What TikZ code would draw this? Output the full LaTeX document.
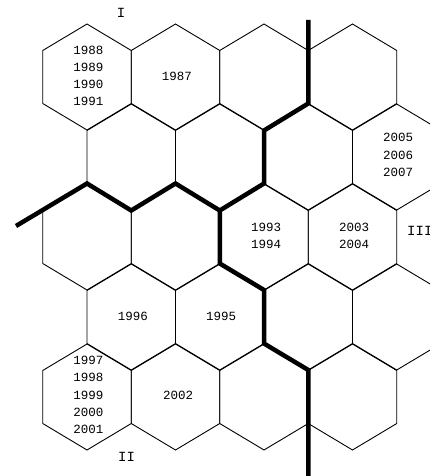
\documentclass[tikz,border=0pt]{standalone}
\usepackage{fontspec}
\setmonofont{Liberation Mono}
\begin{document}
\begin{tikzpicture}[x=1pt,y=-1pt,
  hexline/.style={line width=0.9pt, line join=miter},
  border/.style={line width=4.5pt, line join=miter},
  yr/.style={font=\ttfamily\fontsize{12.5}{17.2}\selectfont, align=center, inner sep=0pt},
  roman/.style={font=\ttfamily\fontsize{14}{16}\selectfont, inner sep=0pt}]
\useasboundingbox (0,0) rectangle (430,476);
\def\hw{44.25}
\foreach \cx/\cy in {87/77,175.5/77,264/77,352.5/77,
                     131.25/157,219.75/157,308.25/157,396.75/157,
                     87/237,175.5/237,264/237,352.5/237,
                     131.25/317,219.75/317,308.25/317,396.75/317,
                     87/397,175.5/397,264/397,352.5/397}{
  \draw[hexline] (\cx,\cy-53) -- (\cx+\hw,\cy-26.5) -- (\cx+\hw,\cy+26.5) -- (\cx,\cy+53)
     -- (\cx-\hw,\cy+26.5) -- (\cx-\hw,\cy-26.5) -- cycle;
}
% border coordinates
\coordinate (a0) at (308.25,20);
\coordinate (a1) at (308.25,103.5);
\coordinate (a2) at (264,130.5);
\coordinate (a3) at (264,183.5);
\coordinate (a4) at (219.75,210.5);
\coordinate (a5) at (219.75,263.5);
\coordinate (a6) at (264,290);
\coordinate (a7) at (264,343.5);
\coordinate (a8) at (308.25,370);
\coordinate (a9) at (308.25,476);
\coordinate (b0) at (16,226);
\coordinate (b1) at (87,183.5);
\coordinate (b2) at (131.25,210.5);
\coordinate (b3) at (175.5,183.5);
\draw[border] (a0) -- (a1) -- (a2) -- (a3) -- (a4) -- (a5) -- (a6) -- (a7) -- (a8) -- (a9);
\draw[border] (b0) -- (b1) -- (b2) -- (b3) -- (a4);
% labels
\node[yr] (t1) at (88.5,76) {1988\\1989\\1990\\1991};
\node[yr] (t2) at (177,76) {1987};
\node[yr] (t3) at (398,155) {2005\\2006\\2007};
\node[yr] (t4) at (266,236) {1993\\1994};
\node[yr] (t5) at (354,236) {2003\\2004};
\node[yr] (t6) at (133,316) {1996};
\node[yr] (t7) at (221,316) {1995};
\node[yr] (t8) at (88.5,395) {1997\\1998\\1999\\2000\\2001};
\node[yr] (t9) at (178,395) {2002};
\node[roman] (r1) at (121,13) {I};
\node[roman] (r2) at (126.5,457) {II};
\node[roman,anchor=west] (r3) at (407,231) {III};
\end{tikzpicture}
\end{document}
